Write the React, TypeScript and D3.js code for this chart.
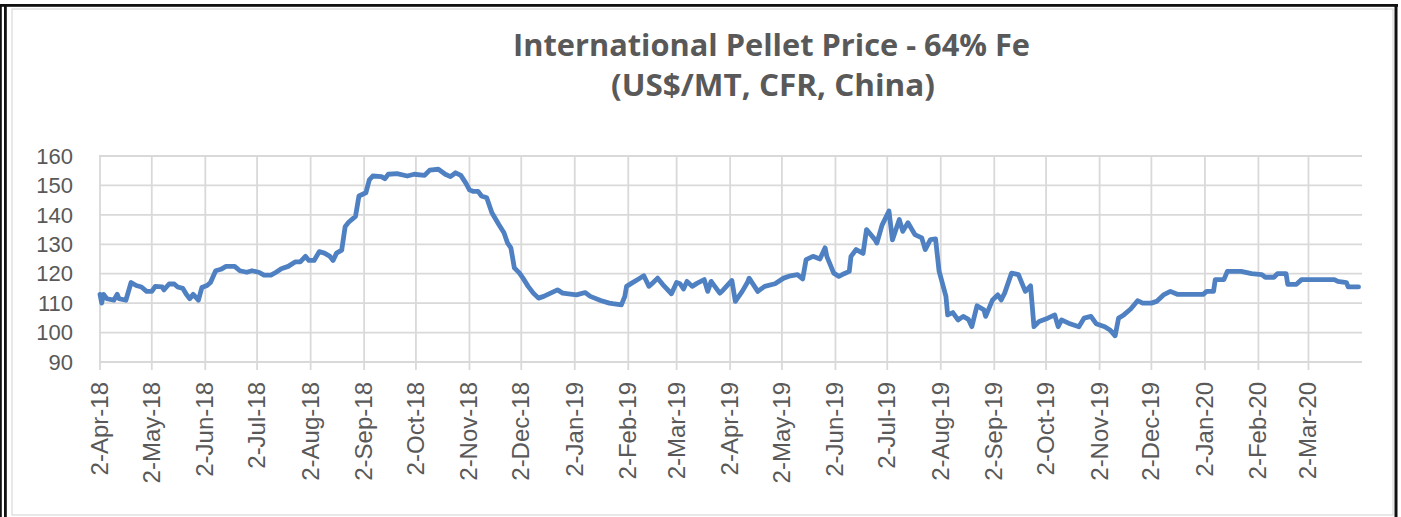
import * as React from "react";
import * as d3 from "d3";

// International pellet price, 64% Fe, CFR China (US$/MT)
const priceDates = [
  "2018-04-02", "2018-04-03", "2018-04-04", "2018-04-06", "2018-04-10", "2018-04-12", "2018-04-13", "2018-04-17",
  "2018-04-20", "2018-04-23", "2018-04-26", "2018-04-29", "2018-05-02", "2018-05-04", "2018-05-08", "2018-05-09",
  "2018-05-12", "2018-05-15", "2018-05-17", "2018-05-20", "2018-05-22", "2018-05-24", "2018-05-26", "2018-05-29",
  "2018-05-31", "2018-06-03", "2018-06-05", "2018-06-08", "2018-06-11", "2018-06-14", "2018-06-19", "2018-06-22",
  "2018-06-26", "2018-06-29", "2018-07-03", "2018-07-06", "2018-07-10", "2018-07-13", "2018-07-16", "2018-07-20",
  "2018-07-24", "2018-07-27", "2018-07-30", "2018-08-01", "2018-08-04", "2018-08-07", "2018-08-10", "2018-08-13",
  "2018-08-15", "2018-08-17", "2018-08-20", "2018-08-22", "2018-08-24", "2018-08-28", "2018-08-30", "2018-09-03",
  "2018-09-05", "2018-09-07", "2018-09-12", "2018-09-14", "2018-09-16", "2018-09-21", "2018-09-27", "2018-10-01",
  "2018-10-07", "2018-10-10", "2018-10-15", "2018-10-19", "2018-10-22", "2018-10-25", "2018-10-28", "2018-10-31",
  "2018-11-02", "2018-11-04", "2018-11-07", "2018-11-09", "2018-11-12", "2018-11-15", "2018-11-19", "2018-11-22",
  "2018-11-24", "2018-11-26", "2018-11-28", "2018-12-01", "2018-12-03", "2018-12-06", "2018-12-09", "2018-12-12",
  "2018-12-15", "2018-12-19", "2018-12-23", "2018-12-26", "2019-01-03", "2019-01-08", "2019-01-11", "2019-01-17",
  "2019-01-22", "2019-01-24", "2019-01-29", "2019-01-31", "2019-02-01", "2019-02-04", "2019-02-08", "2019-02-11",
  "2019-02-14", "2019-02-16", "2019-02-19", "2019-02-22", "2019-02-27", "2019-03-02", "2019-03-04", "2019-03-06",
  "2019-03-08", "2019-03-11", "2019-03-14", "2019-03-18", "2019-03-20", "2019-03-22", "2019-03-27", "2019-03-29",
  "2019-04-03", "2019-04-05", "2019-04-09", "2019-04-12", "2019-04-13", "2019-04-18", "2019-04-22", "2019-04-28",
  "2019-05-03", "2019-05-07", "2019-05-11", "2019-05-14", "2019-05-16", "2019-05-20", "2019-05-24", "2019-05-27",
  "2019-05-28", "2019-06-01", "2019-06-04", "2019-06-07", "2019-06-10", "2019-06-11", "2019-06-14", "2019-06-18",
  "2019-06-20", "2019-06-25", "2019-06-26", "2019-06-29", "2019-07-03", "2019-07-05", "2019-07-09", "2019-07-11",
  "2019-07-14", "2019-07-18", "2019-07-22", "2019-07-24", "2019-07-27", "2019-07-30", "2019-08-01", "2019-08-05",
  "2019-08-06", "2019-08-09", "2019-08-12", "2019-08-15", "2019-08-18", "2019-08-20", "2019-08-23", "2019-08-27",
  "2019-08-28", "2019-09-01", "2019-09-04", "2019-09-06", "2019-09-08", "2019-09-12", "2019-09-16", "2019-09-18",
  "2019-09-20", "2019-09-23", "2019-09-25", "2019-09-28", "2019-10-03", "2019-10-07", "2019-10-09", "2019-10-11",
  "2019-10-15", "2019-10-21", "2019-10-24", "2019-10-28", "2019-10-31", "2019-11-05", "2019-11-08", "2019-11-11",
  "2019-11-13", "2019-11-16", "2019-11-20", "2019-11-24", "2019-11-27", "2019-12-02", "2019-12-05", "2019-12-09",
  "2019-12-13", "2019-12-17", "2020-01-01", "2020-01-03", "2020-01-07", "2020-01-08", "2020-01-13", "2020-01-15",
  "2020-01-23", "2020-01-29", "2020-02-04", "2020-02-06", "2020-02-11", "2020-02-13", "2020-02-18", "2020-02-19",
  "2020-02-24", "2020-02-27", "2020-03-17", "2020-03-19", "2020-03-24", "2020-03-25", "2020-03-31",
];

const priceValues = [
  113, 110, 113, 111.5, 111, 113, 111.5, 111,
  117, 116, 115.5, 114, 114, 115.7, 115.5, 114.5,
  116.5, 116.5, 115.5, 115, 113, 111.5, 113, 111,
  115.3, 116, 117, 121, 121.5, 122.5, 122.5, 121,
  120.5, 121, 120.5, 119.5, 119.5, 120.5, 121.7, 122.5,
  124, 124, 125.9, 124.5, 124.5, 127.5, 127, 126,
  124.5, 127, 128, 136, 137.5, 139.5, 146.4, 147.5,
  151.9, 153.2, 153, 152.3, 153.8, 154, 153.2, 153.8,
  153.4, 155.2, 155.5, 153.8, 153, 154.3, 153.4, 150.7,
  148.5, 148, 148, 146.4, 145.8, 140.7, 136.7, 133.9,
  130.5, 128.8, 122, 120.2, 118.5, 115.7, 113.4, 111.7,
  112.3, 113.4, 114.5, 113.4, 112.8, 113.6, 112.3, 110.9,
  110, 109.8, 109.4, 112.3, 115.7, 116.8, 118.2, 119.3,
  115.7, 116.8, 118.5, 116.3, 113.2, 117, 116.6, 114.8,
  117.4, 115.7, 116.8, 118, 114, 117.4, 113.4, 114.5,
  117.7, 110.6, 114, 117, 118.5, 114, 115.7, 116.6,
  118.5, 119.3, 119.7, 118.2, 124.8, 125.9, 125, 128.8,
  125.9, 120.2, 119.1, 120, 120.8, 125.9, 128.2, 126.9,
  135, 131.5, 130.4, 136.5, 141.3, 131.5, 138.4, 134.4,
  137.3, 133.3, 132.2, 128.2, 131.6, 131.8, 121, 112.3,
  106, 106.8, 104.3, 105.5, 104.5, 102, 109.1, 107.7,
  105.5, 111.1, 112.8, 111.1, 113.4, 120.2, 119.7, 116.8,
  114, 115.9, 102, 103.8, 104.9, 106, 102, 104.3,
  103.2, 102, 104.9, 105.5, 103, 102, 100.9, 98.9,
  104.9, 106, 108, 110.8, 110, 110, 110.6, 112.8,
  114, 113, 113, 114, 114, 118, 118, 120.8,
  120.8, 120, 119.7, 118.8, 118.8, 120, 120, 116.4,
  116.4, 118, 118, 117.4, 117, 115.5, 115.5,
];

const tickDates = [
  "2018-04-02", "2018-05-02", "2018-06-02", "2018-07-02", "2018-08-02", "2018-09-02",
  "2018-10-02", "2018-11-02", "2018-12-02", "2019-01-02", "2019-02-02", "2019-03-02",
  "2019-04-02", "2019-05-02", "2019-06-02", "2019-07-02", "2019-08-02", "2019-09-02",
  "2019-10-02", "2019-11-02", "2019-12-02", "2020-01-02", "2020-02-02", "2020-03-02",
];
const yTicks = [90, 100, 110, 120, 130, 140, 150, 160];
const titleLines = ["International Pellet Price - 64% Fe", "(US$/MT, CFR, China)"];

const parse = d3.timeParse("%Y-%m-%d");
const fmt = d3.timeFormat("%-d-%b-%y");

const W = 1401;
const H = 517;

export default function App() {
  const x = d3
    .scaleTime()
    .domain([parse("2018-04-02"), parse("2020-04-02")])
    .range([100, 1362]);
  const y = d3.scaleLinear().domain([90, 160]).range([362, 156]);

  const points = priceDates.map((d, i) => ({ date: parse(d), value: priceValues[i] }));
  const line = d3
    .line<{ date: Date; value: number }>()
    .x(d => x(d.date))
    .y(d => y(d.value));

  const gridColor = "#d9d9d9";
  const textColor = "#595959";

  return (
    <svg
      width={W}
      height={H}
      style={{ position: "absolute", left: 0, top: 0, background: "#fff" }}
    >
      <rect x={0} y={0} width={W} height={H} fill="#fff" />
      {/* frame */}
      <rect x={12} y={9} width={1381} height={506} fill="none" stroke={gridColor} strokeWidth={1.2} />
      <rect x={0} y={4} width={1.8} height={H} fill="#111" />
      <rect x={4} y={4} width={2.8} height={H} fill="#111" />
      <rect x={0} y={4} width={1398} height={2.8} fill="#111" />
      <rect x={1394.5} y={4} width={3} height={H} fill="#111" />

      {/* title */}
      <g fontFamily="'Open Sans', 'DejaVu Sans', sans-serif" fontWeight={700} fill={textColor} fontSize={31}>
        <text x={513} y={56} textLength={517} lengthAdjust="spacingAndGlyphs">
          {titleLines[0]}
        </text>
        <text x={611} y={96} textLength={324} lengthAdjust="spacingAndGlyphs">
          {titleLines[1]}
        </text>
      </g>

      {/* gridlines */}
      <g stroke={gridColor} strokeWidth={1.8}>
        {yTicks.map(t => (
          <line key={t} x1={99} x2={1362} y1={y(t)} y2={y(t)} />
        ))}
        {tickDates.map(d => (
          <line key={d} x1={x(parse(d))} x2={x(parse(d))} y1={y(160)} y2={370} />
        ))}
      </g>

      {/* y axis labels */}
      <g fontFamily="'Liberation Sans', Arial, sans-serif" fontSize={22} fill={textColor} textAnchor="end">
        {yTicks.map(t => (
          <text key={t} x={73} y={y(t)} dy="0.35em">
            {t}
          </text>
        ))}
      </g>

      {/* x axis labels */}
      <g fontFamily="'Liberation Sans', Arial, sans-serif" fontSize={24} fill={textColor} textAnchor="end">
        {tickDates.map(d => {
          const tx = x(parse(d));
          return (
            <text key={d} transform={`translate(${tx + 8},382) rotate(-90)`}>
              {fmt(parse(d))}
            </text>
          );
        })}
      </g>

      {/* price line */}
      <path
        d={line(points) || ""}
        fill="none"
        stroke="#4f81c2"
        strokeWidth={4.8}
        strokeLinejoin="round"
        strokeLinecap="round"
      />
    </svg>
  );
}
